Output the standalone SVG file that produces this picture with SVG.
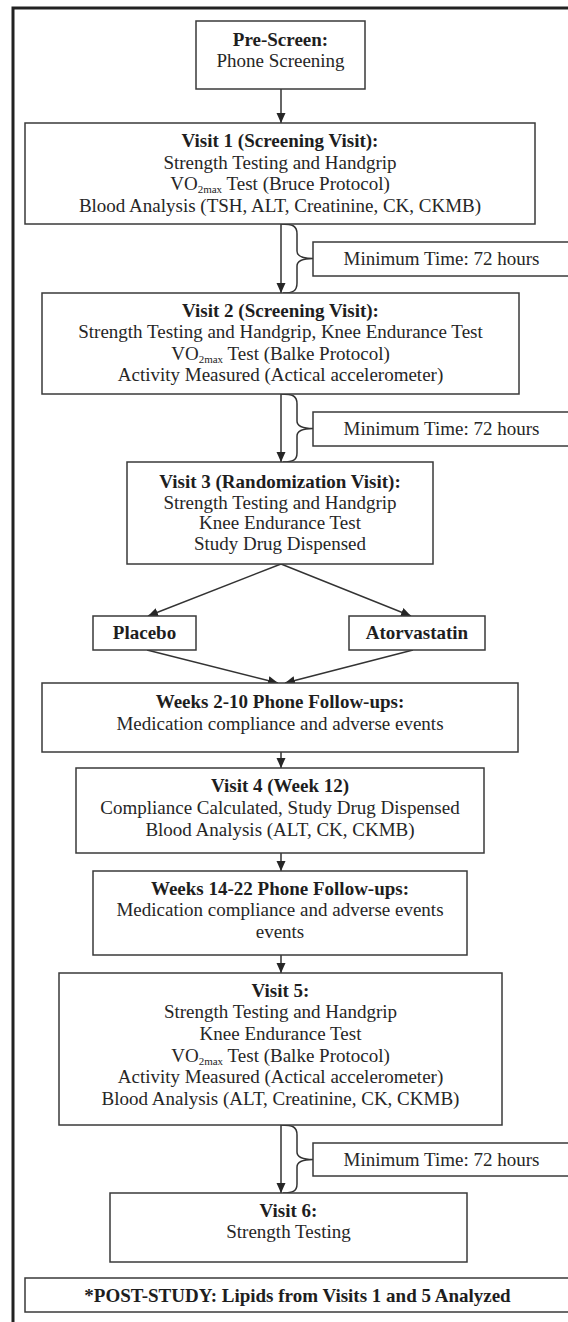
<svg xmlns="http://www.w3.org/2000/svg" width="568" height="1322" viewBox="0 0 568 1322">
<defs>
<style>
.box{fill:#fff;stroke:#3a3a3a;stroke-width:1.5}
.frame{fill:none;stroke:#222;stroke-width:3}
text{font-family:"Liberation Serif","Times New Roman",serif;font-size:19px;fill:#262626;text-anchor:middle}
.b{font-weight:bold;fill:#1e1e1e}
.sub{font-size:11px}
.conn{fill:none;stroke:#333;stroke-width:1.5}
.arr{marker-end:url(#ah)}
</style>
<marker id="ah" markerUnits="userSpaceOnUse" markerWidth="10" markerHeight="10" refX="10" refY="5" orient="auto">
<path d="M0,0.5 L10,5 L0,9.5 z" fill="#262626"/>
</marker>
</defs>
<rect width="568" height="1322" fill="#fff"/>
<rect class="frame" x="13" y="8" width="600" height="1400"/>

<g id="connectors">
<line class="conn arr" x1="281" y1="89" x2="281" y2="123"/>
<line class="conn arr" x1="281" y1="224" x2="281" y2="293"/>
<path class="conn" d="M281 224 C293 224 297 226 297 234 L297 251 C297 256 301 258.5 313 258.5 C301 258.5 297 261 297 266 L297 283 C297 291 293 293 283 293"/>
<line class="conn arr" x1="281" y1="394" x2="281" y2="462"/>
<path class="conn" d="M281 394 C293 394 297 396 297 404 L297 421 C297 426 301 428.5 313 428.5 C301 428.5 297 431 297 436 L297 453 C297 460 293 462 283 462"/>
<line class="conn arr" x1="281" y1="564" x2="148" y2="616"/>
<line class="conn arr" x1="281" y1="564" x2="411" y2="616"/>
<line class="conn arr" x1="147" y1="650" x2="278" y2="683"/>
<line class="conn arr" x1="413" y1="650" x2="285" y2="683"/>
<line class="conn arr" x1="281" y1="752" x2="281" y2="768"/>
<line class="conn arr" x1="281" y1="853" x2="281" y2="871"/>
<line class="conn arr" x1="281" y1="955" x2="281" y2="973"/>
<line class="conn arr" x1="281" y1="1125" x2="281" y2="1193"/>
<path class="conn" d="M281 1125 C293 1125 297 1127 297 1135 L297 1152 C297 1157 301 1159.5 313 1159.5 C301 1159.5 297 1162 297 1167 L297 1184 C297 1191 293 1193 283 1193"/>
</g>

<g id="prescreen">
<rect class="box" x="196" y="21" width="169" height="68"/>
<text class="b" x="280.5" y="46">Pre-Screen:</text>
<text x="280.5" y="67">Phone Screening</text>
</g>

<g id="visit1">
<rect class="box" x="25" y="123" width="510" height="101"/>
<text class="b" x="280" y="147">Visit 1 (Screening Visit):</text>
<text x="280" y="168.5">Strength Testing and Handgrip</text>
<text x="280" y="190">VO<tspan class="sub" dy="3">2max</tspan><tspan dy="-3"> Test (Bruce Protocol)</tspan></text>
<text x="280" y="211.5">Blood Analysis (TSH, ALT, Creatinine, CK, CKMB)</text>
</g>

<g id="min1">
<rect class="box" x="313" y="242" width="260" height="34"/>
<text x="441.5" y="265">Minimum Time: 72 hours</text>
</g>

<g id="visit2">
<rect class="box" x="42" y="293" width="477" height="101"/>
<text class="b" x="280.5" y="317">Visit 2 (Screening Visit):</text>
<text x="280.5" y="338">Strength Testing and Handgrip, Knee Endurance Test</text>
<text x="280.5" y="360">VO<tspan class="sub" dy="3">2max</tspan><tspan dy="-3"> Test (Balke Protocol)</tspan></text>
<text x="280.5" y="381">Activity Measured (Actical accelerometer)</text>
</g>

<g id="min2">
<rect class="box" x="313" y="412" width="260" height="34"/>
<text x="441.5" y="435">Minimum Time: 72 hours</text>
</g>

<g id="visit3">
<rect class="box" x="127" y="462" width="306" height="102"/>
<text class="b" x="280" y="488">Visit 3 (Randomization Visit):</text>
<text x="280" y="508.5">Strength Testing and Handgrip</text>
<text x="280" y="529">Knee Endurance Test</text>
<text x="280" y="550">Study Drug Dispensed</text>
</g>

<g id="placebo">
<rect class="box" x="93" y="616" width="103" height="34"/>
<text class="b" x="144.5" y="639">Placebo</text>
</g>

<g id="atorvastatin">
<rect class="box" x="349" y="616" width="136" height="34"/>
<text class="b" x="417" y="639">Atorvastatin</text>
</g>

<g id="weeks2-10">
<rect class="box" x="42" y="683" width="476" height="69"/>
<text class="b" x="280" y="708">Weeks 2-10 Phone Follow-ups:</text>
<text x="280" y="730">Medication compliance and adverse events</text>
</g>

<g id="visit4">
<rect class="box" x="76" y="768" width="408" height="85"/>
<text class="b" x="280" y="792">Visit 4 (Week 12)</text>
<text x="280" y="814">Compliance Calculated, Study Drug Dispensed</text>
<text x="280" y="836">Blood Analysis (ALT, CK, CKMB)</text>
</g>

<g id="weeks14-22">
<rect class="box" x="93" y="871" width="374" height="84"/>
<text class="b" x="280" y="895">Weeks 14-22 Phone Follow-ups:</text>
<text x="280" y="916">Medication compliance and adverse events</text>
<text x="280" y="938">events</text>
</g>

<g id="visit5">
<rect class="box" x="59" y="973" width="443" height="152"/>
<text class="b" x="280.5" y="997">Visit 5:</text>
<text x="280.5" y="1018">Strength Testing and Handgrip</text>
<text x="280.5" y="1040">Knee Endurance Test</text>
<text x="280.5" y="1062">VO<tspan class="sub" dy="3">2max</tspan><tspan dy="-3"> Test (Balke Protocol)</tspan></text>
<text x="280.5" y="1083">Activity Measured (Actical accelerometer)</text>
<text x="280.5" y="1105">Blood Analysis (ALT, Creatinine, CK, CKMB)</text>
</g>

<g id="min3">
<rect class="box" x="313" y="1143" width="260" height="33"/>
<text x="441.5" y="1166">Minimum Time: 72 hours</text>
</g>

<g id="visit6">
<rect class="box" x="110" y="1193" width="357" height="69"/>
<text class="b" x="288.5" y="1217">Visit 6:</text>
<text x="288.5" y="1238">Strength Testing</text>
</g>

<g id="poststudy">
<rect class="box" x="25" y="1278" width="548" height="34"/>
<text class="b" x="297.5" y="1302">*POST-STUDY: Lipids from Visits 1 and 5 Analyzed</text>
</g>
</svg>
